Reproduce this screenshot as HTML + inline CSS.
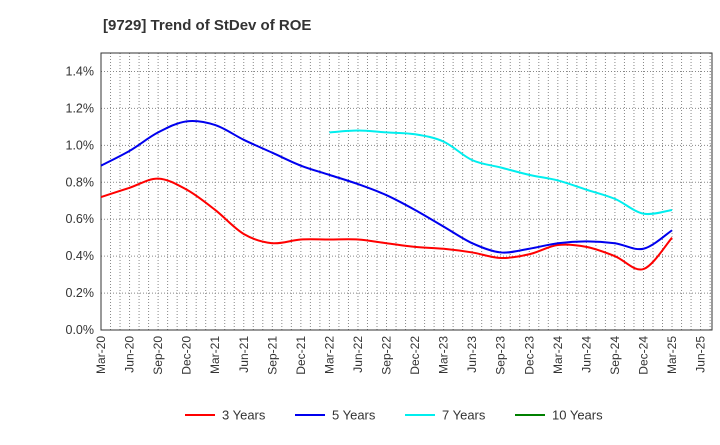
<!DOCTYPE html>
<html><head><meta charset="utf-8"><style>
body{margin:0;background:#fff;font-family:"Liberation Sans",sans-serif}
</style></head><body>
<svg width="720" height="440" xmlns="http://www.w3.org/2000/svg">
<text x="103" y="30" font-size="15" font-weight="bold" fill="#333">[9729]  Trend of StDev of ROE</text>
<g id="grid"></g><g id="axes"></g><g id="series"></g><g id="legend"></g>
</svg>
<script>
const xLabels=["Mar-20","Jun-20","Sep-20","Dec-20","Mar-21","Jun-21","Sep-21","Dec-21","Mar-22","Jun-22","Sep-22","Dec-22","Mar-23","Jun-23","Sep-23","Dec-23","Mar-24","Jun-24","Sep-24","Dec-24","Mar-25","Jun-25"];
const yTicks=[0,0.2,0.4,0.6,0.8,1.0,1.2,1.4];
const s3=[0.72,0.77,0.82,0.76,0.65,0.52,0.47,0.49,0.49,0.49,0.47,0.45,0.44,0.42,0.39,0.41,0.46,0.45,0.40,0.33,0.50];
const s5=[0.89,0.97,1.07,1.13,1.11,1.03,0.96,0.89,0.84,0.79,0.73,0.65,0.56,0.47,0.42,0.44,0.47,0.48,0.47,0.44,0.54];
const s7=[null,null,null,null,null,null,null,null,1.07,1.08,1.07,1.06,1.02,0.92,0.88,0.84,0.81,0.76,0.71,0.63,0.65];
const s10=[];
const seriesNames=["3 Years","5 Years","7 Years","10 Years"];
const colors=["#ff0000","#0000ee","#00eeee","#008000"];
const L=101,R=712,T=53,B=330,yMax=1.5,mMax=64.2;
const X=q=>L+(q*3)/mMax*(R-L);
const Y=v=>B-v/yMax*(B-T);
const NS="http://www.w3.org/2000/svg";
function mk(t,a,p){const e=document.createElementNS(NS,t);for(const k in a)e.setAttribute(k,a[k]);p.appendChild(e);return e;}
const grid=document.getElementById('grid'),axes=document.getElementById('axes'),ser=document.getElementById('series'),leg=document.getElementById('legend');
for(let m=1;m<mMax;m++){const x=L+m/mMax*(R-L);
const g=mk('line',{x1:x,x2:x,y1:T,y2:B,stroke:'#888','stroke-dasharray':'1,2','stroke-width':1},grid);

}
yTicks.forEach(v=>{if(v>0){const g=mk('line',{x1:L,x2:R,y1:Y(v),y2:Y(v),stroke:'#888','stroke-dasharray':'1,2'},grid);

}
const t=mk('text',{x:L-7,y:Y(v)+4,'text-anchor':'end','font-size':12.5,fill:'#333'},axes);t.textContent=v.toFixed(1)+'%';

});
const fr=mk('rect',{x:L,y:T,width:R-L,height:B-T,fill:'none',stroke:'#333'},axes);


xLabels.forEach((l,i)=>{const x=X(i);const t=mk('text',{x:0,y:0,'text-anchor':'end','font-size':12,fill:'#333',transform:`translate(${x+4},${B+6}) rotate(-90)`},axes);t.textContent=l;

});
function path(arr){const p=[];arr.forEach((v,i)=>{if(v!=null)p.push([X(i),Y(v)]);});if(p.length<2)return '';
let d=`M${p[0][0]},${p[0][1]}`;for(let i=0;i<p.length-1;i++){const p0=p[i-1]||p[i],p1=p[i],p2=p[i+1],p3=p[i+2]||p2;
d+=`C${p1[0]+(p2[0]-p0[0])/6},${p1[1]+(p2[1]-p0[1])/6} ${p2[0]-(p3[0]-p1[0])/6},${p2[1]-(p3[1]-p1[1])/6} ${p2[0]},${p2[1]}`;}return d;}
[s3,s5,s7,s10].forEach((s,k)=>{const d=path(s);if(!d)return;const e=mk('path',{d:d,fill:'none',stroke:colors[k],'stroke-width':2},ser);

});
seriesNames.forEach((n,k)=>{const x0=185+k*110;const g=mk('g',{},leg);


mk('line',{x1:x0,x2:x0+30,y1:415,y2:415,stroke:colors[k],'stroke-width':2},g);
const t=mk('text',{x:x0+37,y:419.5,'font-size':13,fill:'#333'},g);t.textContent=n;});
</script>
</body></html>
